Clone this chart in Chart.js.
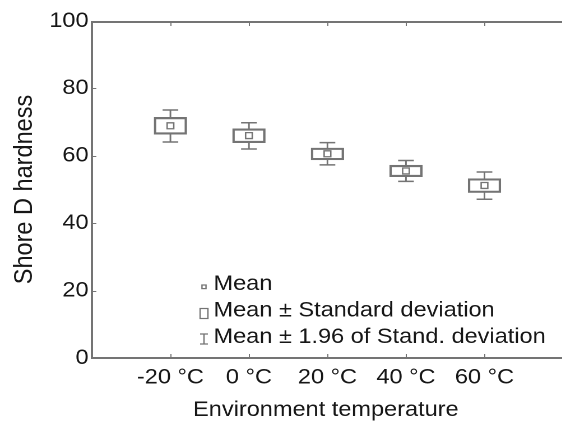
<!DOCTYPE html>
<html>
<head>
<meta charset="utf-8">
<script src="https://cdn.jsdelivr.net/npm/chart.js@4"></script>
<style>
  html, body { margin: 0; padding: 0; background: #fff; overflow: hidden; }
  /* the source picture is stretched sideways, so the canvas is too */
  #wrap { width: 505px; height: 423px; transform: scaleX(1.1208); transform-origin: 0 0; }
</style>
</head>
<body>
<div id="wrap"><canvas id="chart" style="width:505px;height:423px"></canvas></div>
<script>
// data
const temps = ['-20 °C', '0 °C', '20 °C', '40 °C', '60 °C'];
const means = [68.9, 66.0, 60.6, 55.5, 51.2];
const sdLow = [66.4, 63.9, 58.8, 53.8, 49.1];
const sdHigh = [71.4, 68.0, 62.3, 57.2, 53.2];
const ciLow = [64.1, 62.0, 57.3, 52.4, 47.1];
const ciHigh = [73.6, 69.8, 63.9, 58.6, 55.2];
const yTicks = [0, 20, 40, 60, 80, 100];
const legendLabels = ['Mean', 'Mean ± Standard deviation', 'Mean ± 1.96 of Stand. deviation'];

const lineColor = '#747474';
const textColor = '#161616';
const font = { family: 'Liberation Sans, Arial, sans-serif', size: 21 };

// whiskers (mean ± 1.96 sd)
const whiskerPlugin = {
  id: 'whiskers',
  afterDatasetsDraw(chart) {
    const ctx = chart.ctx;
    const x = chart.scales.x, y = chart.scales.y;
    ctx.save();
    ctx.strokeStyle = lineColor;
    ctx.lineWidth = 1.5;
    for (let i = 0; i < temps.length; i++) {
      const px = x.getPixelForValue(i + 1);
      const top = y.getPixelForValue(ciHigh[i]);
      const bot = y.getPixelForValue(ciLow[i]);
      ctx.beginPath();
      ctx.moveTo(px, top); ctx.lineTo(px, y.getPixelForValue(sdHigh[i]));
      ctx.moveTo(px, bot); ctx.lineTo(px, y.getPixelForValue(sdLow[i]));
      ctx.moveTo(px - 7, top); ctx.lineTo(px + 7, top);
      ctx.moveTo(px - 7, bot); ctx.lineTo(px + 7, bot);
      ctx.stroke();
    }
    ctx.restore();
  }
};

// frame with inward ticks
const framePlugin = {
  id: 'frame',
  afterDraw(chart) {
    const ctx = chart.ctx;
    const a = chart.chartArea;
    const x = chart.scales.x, y = chart.scales.y;
    ctx.save();
    ctx.strokeStyle = lineColor;
    ctx.lineWidth = 2;
    ctx.beginPath();
    ctx.moveTo(a.right + 2, a.top + 1);
    ctx.lineTo(a.left, a.top + 1);
    ctx.lineTo(a.left, a.bottom);
    ctx.lineTo(a.right + 2, a.bottom);
    ctx.stroke();
    ctx.lineWidth = 1;
    ctx.beginPath();
    y.ticks.forEach(t => {
      const py = Math.round(y.getPixelForValue(t.value)) + 0.5;
      ctx.moveTo(a.left, py); ctx.lineTo(a.left + 4, py);
    });
    x.ticks.forEach(t => {
      const px = Math.round(x.getPixelForValue(t.value)) + 0.5;
      ctx.moveTo(px, a.bottom); ctx.lineTo(px, a.bottom - 4);
      ctx.moveTo(px, a.top + 1); ctx.lineTo(px, a.top + 5);
    });
    ctx.stroke();
    ctx.restore();
  }
};

// legend inside the plot
const legendPlugin = {
  id: 'boxLegend',
  afterDraw(chart) {
    const ctx = chart.ctx;
    const sx = 182, tx = 190.5;
    const rows = [284, 310.5, 337];
    ctx.save();
    ctx.strokeStyle = lineColor;
    ctx.lineWidth = 1.2;
    ctx.strokeRect(sx - 1.8, rows[0] + 1, 3.6, 3.6);
    ctx.strokeRect(sx - 3.5, rows[1] - 2, 7, 10);
    ctx.beginPath();
    ctx.moveTo(sx - 3.5, rows[2] - 3); ctx.lineTo(sx + 3.5, rows[2] - 3);
    ctx.moveTo(sx, rows[2] - 3); ctx.lineTo(sx, rows[2] + 7);
    ctx.moveTo(sx - 3.5, rows[2] + 7); ctx.lineTo(sx + 3.5, rows[2] + 7);
    ctx.stroke();
    ctx.fillStyle = textColor;
    ctx.font = font.size + 'px ' + font.family;
    ctx.textBaseline = 'middle';
    ctx.textAlign = 'left';
    legendLabels.forEach((l, i) => ctx.fillText(l, tx, rows[i]));
    ctx.restore();
  }
};

new Chart(document.getElementById('chart'), {
  type: 'bar',
  data: {
    datasets: [
      {
        type: 'bar',
        data: temps.map((t, i) => ({ x: i + 1, y: [sdLow[i], sdHigh[i]] })),
        backgroundColor: 'rgba(0,0,0,0)',
        borderColor: lineColor,
        borderWidth: 1.5,
        borderSkipped: false,
        barThickness: 29
      },
      {
        type: 'scatter',
        data: temps.map((t, i) => ({ x: i + 1, y: means[i] })),
        pointStyle: 'rect',
        pointRadius: 4.2,
        pointBackgroundColor: '#fff',
        pointBorderColor: lineColor,
        pointBorderWidth: 1.3
      }
    ]
  },
  options: {
    responsive: false,
    animation: false,
    devicePixelRatio: 2,
    layout: { padding: { top: 21, left: 0, right: 0, bottom: 0 } },
    plugins: { legend: { display: false }, tooltip: { enabled: false } },
    scales: {
      x: {
        type: 'linear',
        offset: false,
        min: 0,
        max: 5.96,
        afterBuildTicks: s => { s.ticks = temps.map((t, i) => ({ value: i + 1 })); },
        afterFit: s => { s.height = 65; },
        grid: { display: false, drawTicks: false },
        border: { display: false },
        ticks: {
          autoSkip: false,
          maxRotation: 0,
          padding: 7,
          color: textColor,
          font: font,
          callback: v => temps[v - 1]
        },
        title: { display: true, text: 'Environment temperature', color: textColor, font: font, padding: { top: 0, bottom: 0 } }
      },
      y: {
        min: 0,
        max: 100,
        afterBuildTicks: s => { s.ticks = yTicks.map(v => ({ value: v })); },
        afterFit: s => { s.width = 82; },
        grid: { display: false, drawTicks: false },
        border: { display: false },
        ticks: { padding: 3, color: textColor, font: font },
        title: { display: true, text: 'Shore D hardness', color: textColor, font: { family: font.family, size: 23.5 }, padding: { top: 8, bottom: 0 } }
      }
    }
  },
  plugins: [whiskerPlugin, framePlugin, legendPlugin]
});
</script>
</body>
</html>
